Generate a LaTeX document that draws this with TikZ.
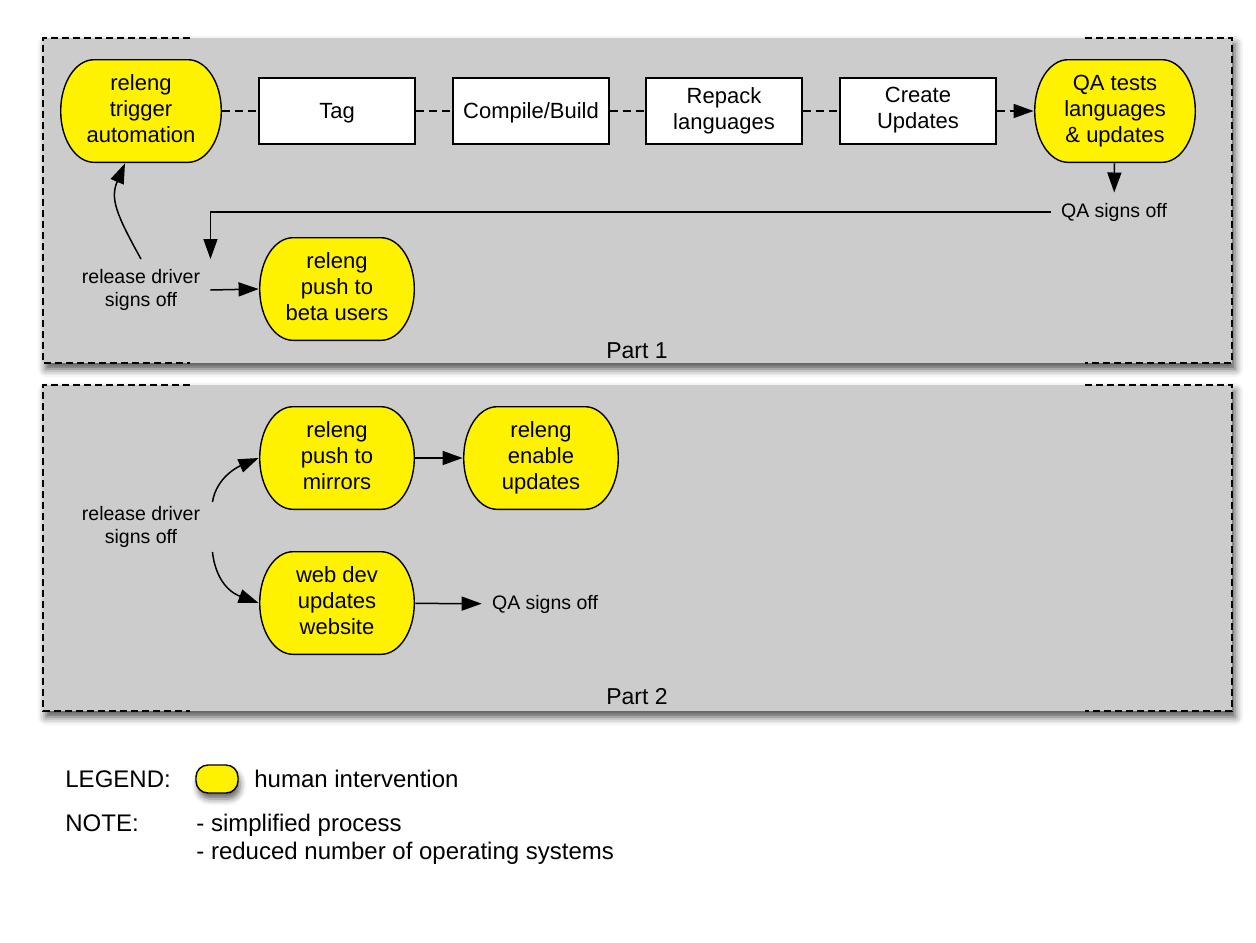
\documentclass[tikz,border=0pt]{standalone}
\usepackage{fontspec}
\setmainfont{Liberation Sans}
\usetikzlibrary{arrows.meta,shadows.blur}
\definecolor{panelgray}{HTML}{CCCCCC}

\begin{document}
\begin{tikzpicture}[x=0.5pt, y=-0.5pt,
    panel/.style={fill=panelgray, blur shadow={shadow xshift=1.5pt, shadow yshift=-3pt, shadow blur radius=4pt, shadow opacity=70}},
    panelline/.style={line width=0.75pt, dash pattern=on 3.5pt off 2pt},
    task/.style={draw, line width=0.7pt, fill=white, minimum width=78pt, minimum height=33pt, inner sep=1pt, align=center,
      font=\fontsize{11}{13}\selectfont,
      execute at begin node={\rule{0pt}{10.6pt}}, execute at end node={\rule[-2.9pt]{0pt}{2.9pt}}},
    human/.style={align=center, inner sep=0pt, minimum width=78pt, minimum height=52pt, font=\fontsize{11}{13}\selectfont,
      execute at begin node={\rule{0pt}{12.6pt}}, execute at end node={\rule[-2.4pt]{0pt}{2.4pt}},
      path picture={
        \draw[fill=yellow, line width=0.7pt]
          ([xshift=17pt, yshift=-0.35pt]path picture bounding box.north west)
          -- ([xshift=-17pt, yshift=-0.35pt]path picture bounding box.north east)
          arc[start angle=90, end angle=-90, x radius=16.65pt, y radius=25.65pt]
          -- ([xshift=17pt, yshift=0.35pt]path picture bounding box.south west)
          arc[start angle=270, end angle=90, x radius=16.65pt, y radius=25.65pt]
          -- cycle;}},
    signoff/.style={align=center, inner sep=5pt, font=\fontsize{9.75}{11.5}\selectfont},
    partname/.style={inner sep=1pt, font=\fontsize{11.5}{13}\selectfont},
    legendfont/.style={inner sep=0pt, anchor=base west, align=left, font=\fontsize{12}{14}\selectfont},
    legendshape/.style={draw, line width=0.7pt, fill=yellow, rounded corners=6pt, minimum width=21pt, minimum height=14pt, inner sep=0pt,
      blur shadow={shadow xshift=1pt, shadow yshift=-3pt, shadow blur radius=3pt, shadow opacity=60}},
    flow/.style={line width=0.75pt, dash pattern=on 4pt off 2.5pt},
    arrowline/.style={line width=0.75pt, -{Triangle[length=10pt, width=7pt, fill=black]}},
  ]

    \useasboundingbox (0,0) rectangle (1256,942);

    % Grey panels with their dashed borders
    \path[panel] (43,38) rectangle (1232,363);
    \draw[panelline] (190,38) -- (43,38) -- (43,363) -- (190,363);
    \draw[panelline] (1085,38) -- (1232,38) -- (1232,363) -- (1085,363);

    \path[panel] (43,385) rectangle (1232,711);
    \draw[panelline] (190,385) -- (43,385) -- (43,711) -- (190,711);
    \draw[panelline] (1085,385) -- (1232,385) -- (1232,711) -- (1085,711);

    % Part 1
    \node[human, minimum width=81pt] (trigger) at (141,111) {releng\\trigger\\automation};
    \node[task] (tag) at (337,111) {Tag};
    \node[task] (compile) at (531,111) {Compile/Build};
    \node[task] (repack) at (724,111) {Repack\\languages};
    \node[task] (create) at (918,111) {Create\\Updates};
    \node[human, minimum width=81pt] (qatests) at (1115,111) {QA tests\\languages\\\& updates};
    \node[signoff] (qasign) at (1114,212) {QA signs off};
    \node[signoff] (driver) at (141,290) {release driver\\signs off};
    \node[human] (beta) at (337,289) {releng\\push to\\beta users};
    \node[partname] (part1) at (637,351) {Part 1};

    \draw[flow] (trigger) -- (tag);
    \draw[flow] (tag) -- (compile);
    \draw[flow] (compile) -- (repack);
    \draw[flow] (repack) -- (create);
    \draw[flow, arrowline] (create) -- (qatests);
    \draw[arrowline] (qatests) -- (qasign);
    \draw[arrowline] (qasign.west) -| (driver.north east);
    \draw[arrowline] (driver.north) .. controls +(-25,-45) and +(-15,35) .. ([xshift=-8pt]trigger.south);
    \draw[arrowline] (driver.east) -- (beta.west);

    % Part 2
    \node[signoff, inner xsep=6pt, inner ysep=2pt] (driver2) at (141,527) {release driver\\signs off};
    \node[human] (mirrors) at (337,458) {releng\\push to\\mirrors};
    \node[human] (enable) at (541,458) {releng\\enable\\updates};
    \node[human] (webdev) at (337,603) {web dev\\updates\\website};
    \node[signoff] (qasign2) at (545,604) {QA signs off};
    \node[partname] (part2) at (637,697) {Part 2};

    \draw[arrowline] (driver2.north east) .. controls +(4,-25) and +(-20,8.5) .. (mirrors.west);
    \draw[arrowline] (driver2.south east) .. controls +(4,35) and +(-22,-8) .. (webdev.west);
    \draw[arrowline] (mirrors) -- (enable);
    \draw[arrowline] (webdev) -- (qasign2);

    % Legend and note
    \node[legendfont] (legendlab) at (65,787) {LEGEND:};
    \node[legendshape] (legendbox) at (217,779) {};
    \node[legendfont] (legendtxt) at (254,787) {human intervention};
    \node[legendfont] (notelab) at (65,831) {NOTE:};
    \node[legendfont] (notetxt) at (196,859) {- simplified process\\- reduced number of operating systems};
\end{tikzpicture}
\end{document}
